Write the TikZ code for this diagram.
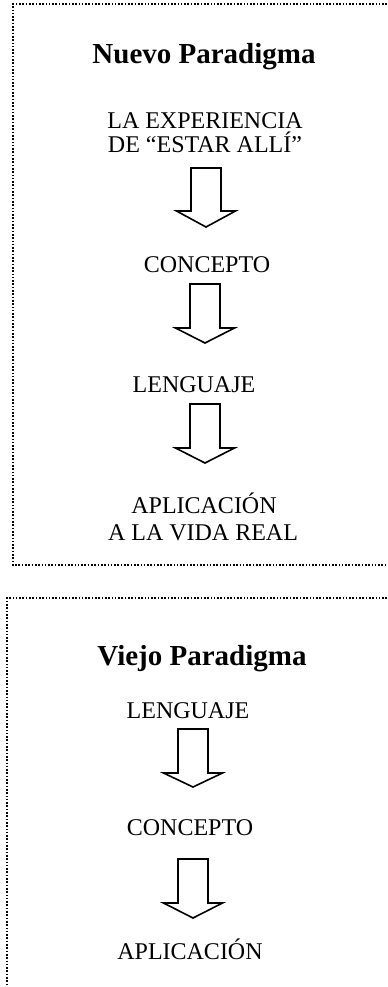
\documentclass[tikz,border=0pt]{standalone}
\usepackage{fontspec}
\setmainfont{Liberation Serif}
\begin{document}
\begin{tikzpicture}[x=0.5pt, y=-0.5pt,
        txt/.style={anchor = base, inner sep = 0pt, font=\fontsize{12}{14}\selectfont},
        ttl/.style={anchor = base, inner sep = 0pt, font=\fontsize{14.5}{17}\selectfont\bfseries},
        blockarrow/.style={draw, line width = 0.8pt, line join = miter},
        dotbox/.style={line width = 0.8pt, dash pattern = on 0.8pt off 0.85pt}]
        \useasboundingbox (0,0) rectangle (387,987);
        % nuevo paradigma
        \draw[dotbox] (387,4) -- (13,4) -- (13,565) -- (387,565);
        \draw (204,63)  node[ttl] (nuevo) {Nuevo Paradigma};
        \draw (205,128) node[txt] (exp1) {LA EXPERIENCIA};
        \draw (205,152) node[txt] (exp2) {DE “ESTAR ALLÍ”};
        \draw (207,272) node[txt] (conc1) {CONCEPTO};
        \draw (194,392) node[txt] (leng1) {LENGUAJE};
        \draw (204,513) node[txt] (apl1) {APLICACIÓN};
        \draw (203,540) node[txt] (apl2) {A LA VIDA REAL};
        \draw[blockarrow] (191,168) -- ++(0,43) -- ++(-14.5,0) -- ++(29.5,16) -- ++(29.5,-16) -- ++(-14.5,0) -- ++(0,-43) -- cycle;
        \draw[blockarrow] (190,284) -- ++(0,44) -- ++(-14.5,0) -- ++(29.5,15) -- ++(29.5,-15) -- ++(-14.5,0) -- ++(0,-44) -- cycle;
        \draw[blockarrow] (190,404) -- ++(0,44) -- ++(-14.5,0) -- ++(29.5,15) -- ++(29.5,-15) -- ++(-14.5,0) -- ++(0,-44) -- cycle;
        % viejo paradigma
        \draw[dotbox] (387,598) -- (7,598) -- (7,987);
        \draw (202,665) node[ttl] (viejo) {Viejo Paradigma};
        \draw (188,718) node[txt] (leng2) {LENGUAJE};
        \draw (190,835) node[txt] (conc2) {CONCEPTO};
        \draw (190,959) node[txt] (apl3) {APLICACIÓN};
        \draw[blockarrow] (178,729) -- ++(0,44) -- ++(-14.5,0) -- ++(29.5,14) -- ++(29.5,-14) -- ++(-14.5,0) -- ++(0,-44) -- cycle;
        \draw[blockarrow] (178,859) -- ++(0,44) -- ++(-14.5,0) -- ++(29.5,15) -- ++(29.5,-15) -- ++(-14.5,0) -- ++(0,-44) -- cycle;
\end{tikzpicture}
\end{document}
